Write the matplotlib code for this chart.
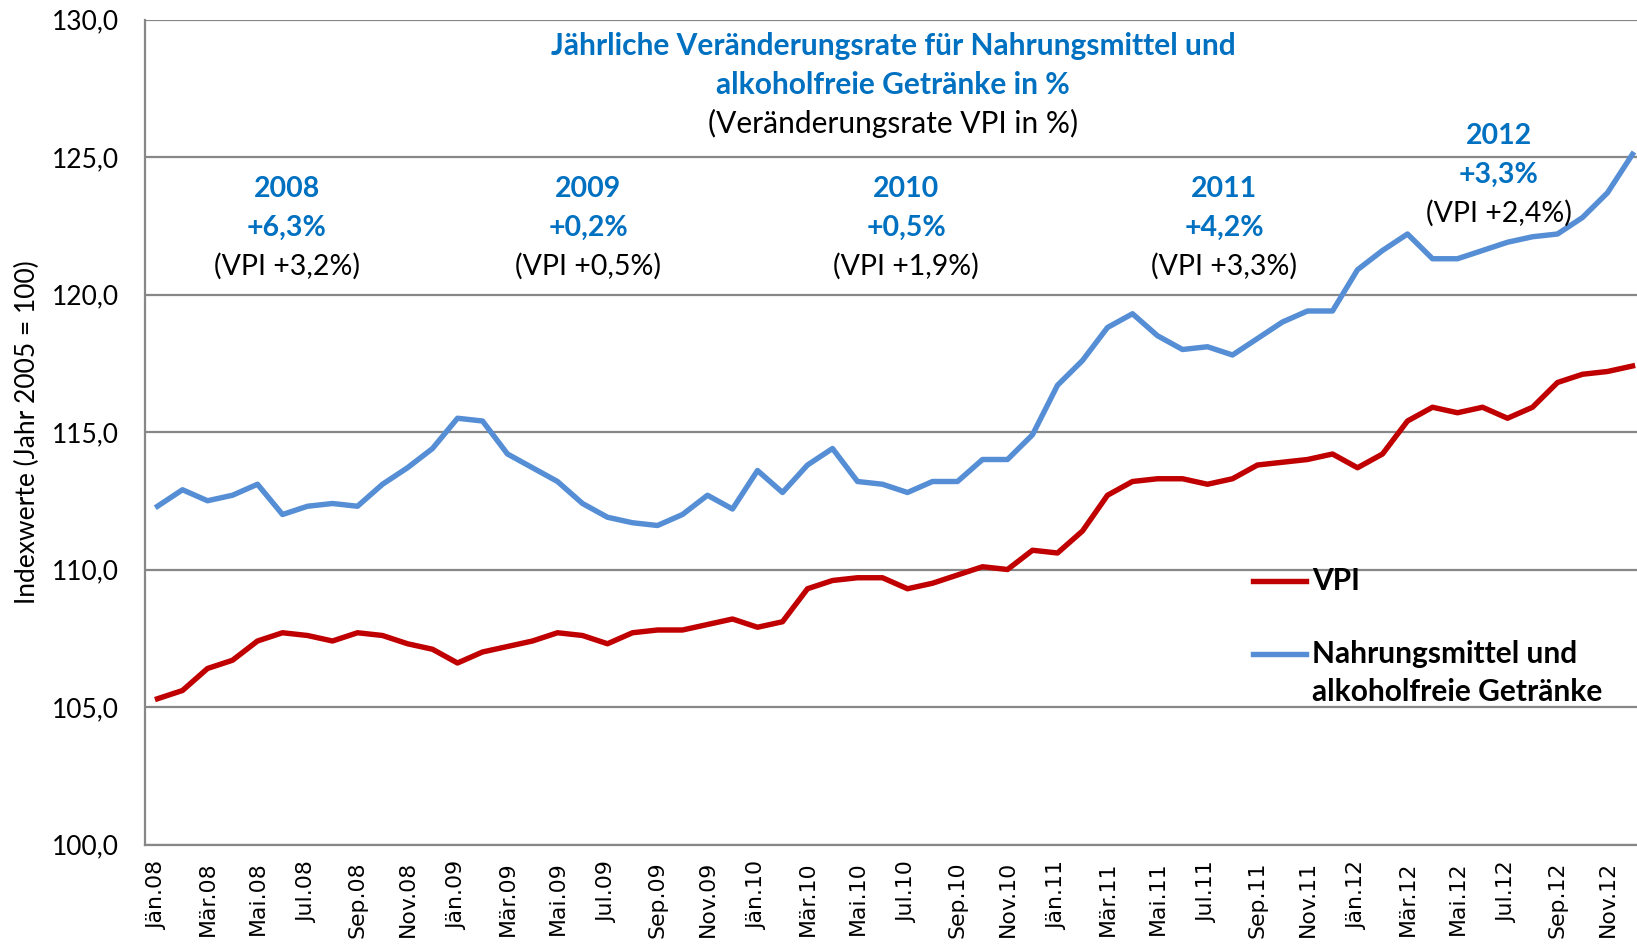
import matplotlib
matplotlib.use("Agg")
import matplotlib.pyplot as plt
from matplotlib.lines import Line2D

months = ["Jän", "Feb", "Mär", "Apr", "Mai", "Jun", "Jul", "Aug", "Sep", "Okt", "Nov", "Dez"]
years = ["08", "09", "10", "11", "12"]
categories = [f"{m}.{y}" for y in years for m in months]

food = [112.3, 112.9, 112.5, 112.7, 113.1, 112.0, 112.3, 112.4, 112.3, 113.1, 113.7, 114.4,
        115.5, 115.4, 114.2, 113.7, 113.2, 112.4, 111.9, 111.7, 111.6, 112.0, 112.7, 112.2,
        113.6, 112.8, 113.8, 114.4, 113.2, 113.1, 112.8, 113.2, 113.2, 114.0, 114.0, 114.9,
        116.7, 117.6, 118.8, 119.3, 118.5, 118.0, 118.1, 117.8, 118.4, 119.0, 119.4, 119.4,
        120.9, 121.6, 122.2, 121.3, 121.3, 121.6, 121.9, 122.1, 122.2, 122.8, 123.7, 125.1]
vpi = [105.3, 105.6, 106.4, 106.7, 107.4, 107.7, 107.6, 107.4, 107.7, 107.6, 107.3, 107.1,
       106.6, 107.0, 107.2, 107.4, 107.7, 107.6, 107.3, 107.7, 107.8, 107.8, 108.0, 108.2,
       107.9, 108.1, 109.3, 109.6, 109.7, 109.7, 109.3, 109.5, 109.8, 110.1, 110.0, 110.7,
       110.6, 111.4, 112.7, 113.2, 113.3, 113.3, 113.1, 113.3, 113.8, 113.9, 114.0, 114.2,
       113.7, 114.2, 115.4, 115.9, 115.7, 115.9, 115.5, 115.9, 116.8, 117.1, 117.2, 117.4]

yticks = [100, 105, 110, 115, 120, 125, 130]
ann_years = ["2008", "2009", "2010", "2011", "2012"]
ann_food = ["+6,3%", "+0,2%", "+0,5%", "+4,2%", "+3,3%"]
ann_vpi = ["(VPI +3,2%)", "(VPI +0,5%)", "(VPI +1,9%)", "(VPI +3,3%)", "(VPI +2,4%)"]

RED = "#C00000"
BLUE = "#558ED5"
TBLUE = "#0070C0"
GRID = "#878787"
FONT = "Lato"

W, H = 1637, 944
fig = plt.figure(figsize=(W / 100, H / 100), dpi=100)
plt.rcParams['font.family'] = [FONT, 'DejaVu Sans']

def fx(px):
    return px / W

def fy(py):
    return 1 - py / H

left, right, top, bottom = 145, 1645, 19.5, 844.5
ax = fig.add_axes([fx(left), fy(bottom), fx(right - left), (bottom - top) / H])

x = list(range(len(categories)))
ax.plot(x, vpi, color=RED, lw=3.9, solid_joinstyle="round", zorder=3)
ax.plot(x, food, color=BLUE, lw=3.9, solid_joinstyle="round", zorder=3)

ax.set_xlim(-0.5, len(categories) - 0.5)
ax.set_ylim(100, 130)
ax.set_yticks(yticks)
ax.set_yticklabels([f"{v:.1f}".replace(".", ",") for v in yticks], fontsize=19, family=FONT)
ax.set_xticks(x[::2])
ax.set_xticklabels(categories[::2], rotation=90, fontsize=15.8, family="DejaVu Sans")
ax.tick_params(axis="both", length=0)
ax.tick_params(axis="x", pad=12)
ax.tick_params(axis="y", pad=19)
ax.grid(axis="y", color=GRID, lw=1.6)
ax.set_axisbelow(True)
for s in ["top", "right"]:
    ax.spines[s].set_visible(False)
for s in ["left", "bottom"]:
    ax.spines[s].set_color(GRID)
    ax.spines[s].set_linewidth(1.6)
ax.set_ylabel("Indexwerte (Jahr 2005 = 100)", fontsize=19, family=FONT, labelpad=8)

TS = 21.5
AS = 20.5
# Title block
fig.text(fx(893), fy(46), "Jährliche Veränderungsrate für Nahrungsmittel und",
         ha="center", va="center", fontsize=TS, fontweight="bold", color=TBLUE, family=FONT)
fig.text(fx(893), fy(85), "alkoholfreie Getränke in %",
         ha="center", va="center", fontsize=TS, fontweight="bold", color=TBLUE, family=FONT)
fig.text(fx(893), fy(123), "(Veränderungsrate VPI in %)",
         ha="center", va="center", fontsize=TS, color="black", family=FONT)

# Year annotations
ann_x = [287, 588, 906, 1224, 1499]
ann_y = [189, 189, 189, 189, 136]
for xs, ys, a, b, c in zip(ann_x, ann_y, ann_years, ann_food, ann_vpi):
    fig.text(fx(xs), fy(ys), a, ha="center", va="center", fontsize=AS,
             fontweight="bold", color=TBLUE, family=FONT)
    fig.text(fx(xs), fy(ys + 38.5), b, ha="center", va="center", fontsize=AS,
             fontweight="bold", color=TBLUE, family=FONT)
    fig.text(fx(xs), fy(ys + 77), c, ha="center", va="center", fontsize=AS,
             color="black", family=FONT)

# Legend (manual)
fig.add_artist(Line2D([fx(1253), fx(1306)], [fy(581), fy(581)], color=RED, lw=3.9))
fig.add_artist(Line2D([fx(1253), fx(1306)], [fy(654), fy(654)], color=BLUE, lw=3.9))
fig.text(fx(1312), fy(581), "VPI", ha="left", va="center", fontsize=TS,
         fontweight="bold", family=FONT)
fig.text(fx(1312), fy(654), "Nahrungsmittel und", ha="left", va="center", fontsize=TS,
         fontweight="bold", family=FONT)
fig.text(fx(1312), fy(692), "alkoholfreie Getränke", ha="left", va="center", fontsize=TS,
         fontweight="bold", family=FONT)

fig.savefig("out.png", dpi=100)
